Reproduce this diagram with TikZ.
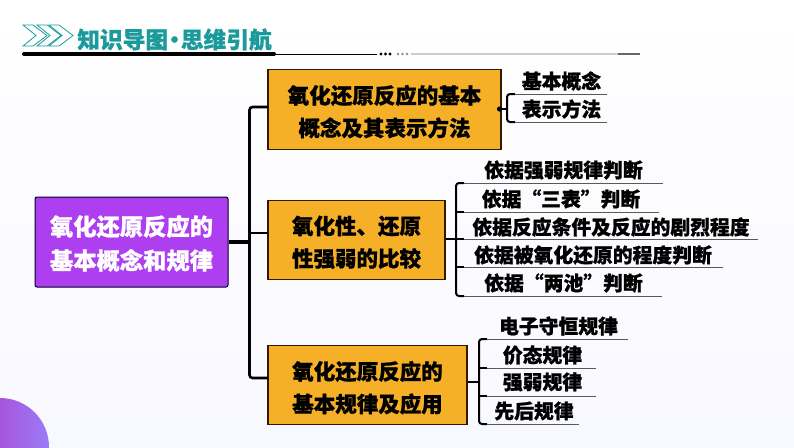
\documentclass[tikz,border=0pt]{standalone}
\usepackage{fontspec}
\setmainfont{Noto Sans CJK SC}[BoldFeatures={FakeBold=0.9}]
\definecolor{headteal}{HTML}{1B9A9C}
\definecolor{rootpurple}{HTML}{AE3FF0}
\definecolor{boxorange}{HTML}{F5B027}
\definecolor{bgtint}{HTML}{F8F8FF}
\definecolor{blobleft}{HTML}{B62EC5}
\definecolor{blobright}{HTML}{9A7CF5}
\newcommand{\twolines}[3]{\raisebox{#1}[0pt][0pt]{\begin{tabular}[c]{@{}c@{}}#2\\#3\end{tabular}}}
\tikzset{
  rootbox/.style={draw=black!85!blue,line width=1pt,rounded corners=2pt,fill=rootpurple,text=white,font=\fontsize{23.3}{34}\selectfont\bfseries,minimum width=193pt,minimum height=90pt,inner sep=0pt},
  midbox/.style={draw=black!80!orange,line width=1.1pt,fill=boxorange,text=black,font=\fontsize{21.5}{32.5}\selectfont\bfseries,minimum height=79.5pt,inner sep=0pt},
  leaf/.style={font=\fontsize{19.8}{22}\selectfont\bfseries,inner sep=0pt},
  trunk/.style={line width=2.6pt,rounded corners=3pt},
  branch/.style={line width=2pt,rounded corners=3pt},
  rule/.style={line width=.9pt,black!65},
}
\begin{document}
\begin{tikzpicture}[x=1pt,y=-1pt]
  \useasboundingbox (0,0) rectangle (794,447);
  \shade[shading angle=45,top color=white,middle color=white,bottom color=bgtint] (0,0) rectangle (794,447);
  \begin{scope}
    \clip (0,0) rectangle (794,447);
    \shade[left color=blobleft,right color=blobright] (0,447) circle (49pt);
  \end{scope}
  \foreach \s in {0,14,26}
    \draw[headteal,line width=.8pt] (23+\s,25) -- (33+\s,25) -- (47+\s,35.5) -- (33+\s,46) -- (23+\s,46) -- (36+\s,35.5) -- cycle;
  \node[headteal,font=\fontsize{22.7}{24}\selectfont\bfseries,inner sep=0pt] at (174.5,39.5) (title) {知识导图\kern-5pt·\kern-5pt思维引航};
  \draw[line width=4pt,line cap=round] (24,54) -- (274,54);
  \draw[line width=.9pt] (274,54) -- (377,54);
  \foreach \s in {381,385.5,390} \fill (\s,54) circle (1.6pt);
  \foreach \s in {398,402.5,407} \fill[black!45] (\s,54) circle (1.4pt);
  \draw[line width=1.2pt,black!20] (411,54) -- (618,54);
  \draw[line width=1.6pt,black!60] (618,54) -- (640,54);

  \node[rootbox] at (131.5,242) (root) {\twolines{-9.8pt}{氧化还原反应的}{基本概念和规律}};
  \node[midbox,minimum width=233pt] at (384.5,109.5) (boxA) {\twolines{-9.1pt}{氧化还原反应的基本}{概念及其表示方法}};
  \node[midbox,minimum width=177pt] at (356.5,240) (boxB) {\twolines{-9.1pt}{氧化性、还原}{性强弱的比较}};
  \node[midbox,minimum width=199pt] at (367.5,385) (boxC) {\twolines{-9.6pt}{氧化还原反应的}{基本规律及应用}};

  \coordinate (hub) at (249.5,242);
  \coordinate (inA) at (268,107);
  \coordinate (inB) at (268,233);
  \coordinate (inC) at (268,378);
  \draw[trunk] (inA) -| (hub) |- (inC);
  \draw[line width=1.6pt] (inB) -- (hub |- inB);
  \draw[line width=3.4pt] (root.east) -- (hub);

  \node[leaf] at (561.5,81) (leafAa) {基本概念};
  \node[leaf] at (561.5,109) (leafAb) {表示方法};
  \coordinate (hubA) at (507,109);
  \coordinate (dotA) at (499.5,109);
  \coordinate (tickAa) at (515,94);
  \coordinate (tickAb) at (515,122);
  \coordinate (endAa) at (607,94);
  \coordinate (endAb) at (607,122);
  \draw[branch] (tickAa) -| (hubA) |- (tickAb);
  \draw[rule] (tickAa) -- (endAa);
  \draw[rule] (tickAb) -- (endAb);
  \draw[branch] (dotA) -- (hubA);
  \fill (dotA) circle (2.6pt);

  \node[leaf] at (563.5,170) (leafBa) {依据强弱规律判断};
  \node[leaf] at (561,199) (leafBb) {依据“三表”判断};
  \node[leaf] at (611,227) (leafBc) {依据反应条件及反应的剧烈程度};
  \node[leaf] at (593,255) (leafBd) {依据被氧化还原的程度判断};
  \node[leaf] at (563.5,283) (leafBe) {依据“两池”判断};
  \coordinate (hubB) at (456,239);
  \coordinate (tickBa) at (464,183);
  \coordinate (tickBb) at (464,212);
  \coordinate (tickBc) at (464,239);
  \coordinate (tickBd) at (464,267);
  \coordinate (tickBe) at (464,296);
  \coordinate (endBa) at (663,183);
  \coordinate (endBb) at (659,212);
  \coordinate (endBc) at (758,239);
  \coordinate (endBd) at (723,267);
  \coordinate (endBe) at (662,296);
  \draw[branch] (tickBa) -| (hubB) |- (tickBe);
  \foreach \k in {a,b,c,d,e}
    \draw[rule] (tickB\k) -- (endB\k);
  \draw[branch] (boxB.east |- hubB) -- (tickBc);
  \draw[branch] (hubB |- tickBb) -- (tickBb);
  \draw[branch] (hubB |- tickBd) -- (tickBd);

  \node[leaf] at (558.5,326) (leafCa) {电子守恒规律};
  \node[leaf] at (542.5,355) (leafCb) {价态规律};
  \node[leaf] at (542.5,382) (leafCc) {强弱规律};
  \node[leaf] at (534,411) (leafCd) {先后规律};
  \coordinate (hubC) at (479,382);
  \coordinate (tickCa) at (487,339);
  \coordinate (tickCb) at (487,368);
  \coordinate (tickCc) at (487,396);
  \coordinate (tickCd) at (487,424);
  \coordinate (endCa) at (628,339);
  \coordinate (endCb) at (596,368);
  \coordinate (endCc) at (596,396);
  \coordinate (endCd) at (579,424);
  \draw[branch] (tickCa) -| (hubC) |- (tickCd);
  \foreach \k in {a,b,c,d}
    \draw[rule] (tickC\k) -- (endC\k);
  \draw[branch] (boxC.east |- hubC) -- (hubC);
  \draw[branch] (hubC |- tickCb) -- (tickCb);
  \draw[branch] (hubC |- tickCc) -- (tickCc);
\end{tikzpicture}
\end{document}
